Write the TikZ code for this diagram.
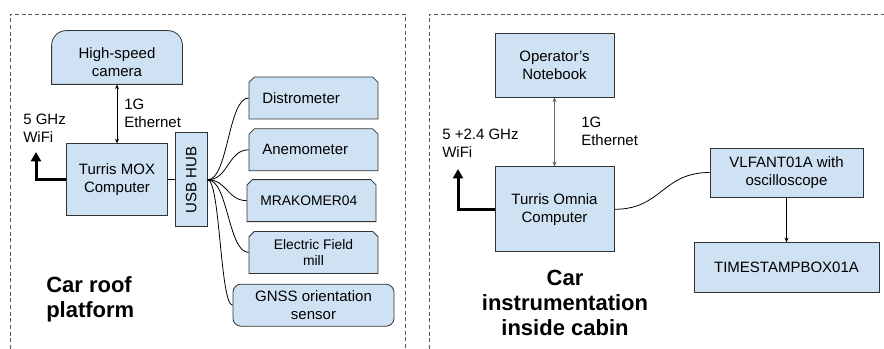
\documentclass[tikz,border=0pt]{standalone}
\usepackage{fontspec}
\setmainfont{Liberation Sans}
\usetikzlibrary{positioning, arrows.meta, shapes.misc, calc, backgrounds}
\definecolor{boxblue}{HTML}{CFE2F3}
\definecolor{boxline}{HTML}{333333}
\definecolor{framegray}{HTML}{595959}
\definecolor{linkgray}{HTML}{666666}

\begin{document}
\begin{tikzpicture}[x=0.75pt, y=-0.75pt, font=\fontsize{11.25}{13.5}\selectfont]
        \tikzstyle{unit} = [rectangle, draw=boxline, fill=boxblue, align=center, inner sep=1pt, line width=0.6pt]
        \tikzstyle{sensor} = [chamfered rectangle, chamfered rectangle corners={north west, north east}, chamfered rectangle xsep=2pt, chamfered rectangle ysep=2pt, draw=boxline, fill=boxblue, align=center, minimum width=96.75pt, minimum height=31.5pt, inner sep=1pt, line width=0.6pt]
        \tikzstyle{leftsensor} = [sensor, align=left, text width=76.75pt]
        \tikzstyle{linklbl} = [align=left, inner sep=0pt]
        \tikzstyle{heading} = [font=\fontsize{16.5}{19}\selectfont\bfseries, inner sep=0pt]
        \tikzstyle{wire} = [line width=0.6pt]
        \tikzstyle{link} = [line width=0.6pt, <->, >={Stealth[length=3.5pt,width=3pt]}]
        \tikzstyle{wifi} = [line width=2.25pt, -{Triangle[length=7pt,width=7.5pt]}]
        \tikzstyle{frame} = [draw=framegray, dash pattern=on 3pt off 2pt, line width=0.6pt]

        \useasboundingbox (0,0) rectangle (884,349);

        % dashed frames
        \draw [frame] (10,349) -- (10,14) -- (405,14) -- (405,349);
        \draw [frame] (429,349) -- (429,14) -- (884,14);

        % car roof platform
        \node [unit, draw=none, fill=none, minimum width=97.5pt, minimum height=33pt] (cam) at (117,62) {High-speed\\camera};
        \begin{pgfonlayer}{background}
            \filldraw [draw=boxline, fill=boxblue, line width=0.6pt, rounded corners=11pt] (cam.south west) -- ([yshift=6.75pt]cam.north west) -- ([yshift=6.75pt]cam.north east) [sharp corners] -- (cam.south east) -- cycle;
        \end{pgfonlayer}
        \node [unit, minimum width=75.75pt, minimum height=54pt, below=44.25pt of cam] (mox) {Turris MOX\\Computer};
        \node [unit, minimum width=24pt, minimum height=70.5pt, right=5.25pt of mox] (hub) {\rotatebox{90}{USB HUB}};

        \node [leftsensor] (distro) at (313.5,98) {Distrometer};
        \node [leftsensor, below=6.75pt of distro] (anemo) {Anemometer};
        \node [leftsensor, below=6pt of anemo, xshift=-1.5pt, font=\fontsize{10.4}{12.5}\selectfont] (mrak) {MRAKOMER04};
        \node [sensor, below=6.75pt of mrak, xshift=1.5pt, font=\fontsize{10.4}{12.5}\selectfont] (efm) {Electric Field\\mill};
        \node [unit, rounded corners=6pt, minimum width=120.75pt, minimum height=31.5pt, below=7.5pt of efm] (gnss) {GNSS orientation\\sensor};

        \node [linklbl, anchor=west] (ethL) at (124,113.5) {1G\\Ethernet};
        \node [linklbl, anchor=west] (wifiLtxt) at (23,128) {5 GHz\\WiFi};
        \node [heading, anchor=west, align=left] (roof) at (46,299.5) {Car roof\\platform};
        \coordinate (wifiL) at (36,152);

        \draw [link] (cam.south) -- (cam.south |- mox.north);
        \draw [wifi] (mox.west) -| (wifiL);
        \draw [wire] (mox.east) -- (hub.west);
        \foreach \s in {distro, anemo, mrak, efm, gnss}
            \draw [wire] let \p1 = (hub.east), \p2 = (\s.west) in (\p1) .. controls ({(\x1+\x2)/2}, \y1) and ({(\x1+\x2)/2}, \y2) .. (\p2);

        % car instrumentation inside cabin
        \node [unit, minimum width=89.25pt, minimum height=48pt] (note) at (554.5,65) {Operator’s\\Notebook};
        \node [unit, minimum width=89.25pt, minimum height=63.75pt, below=51.75pt of note] (omnia) {Turris Omnia\\Computer};
        \node [unit, minimum width=114.75pt, minimum height=36.75pt] (vlf) at (786.5,172.5) {VLFANT01A with\\oscilloscope};
        \node [unit, minimum width=138.75pt, minimum height=37.5pt, below=33.75pt of vlf] (ts) {TIMESTAMPBOX01A};

        \node [linklbl, anchor=west] (ethR) at (581,131.5) {1G\\Ethernet};
        \node [linklbl, anchor=west] (wifiRtxt) at (442,143.5) {5 +2.4 GHz\\WiFi};
        \node [heading, align=center] (cabin) at (565,303) {Car\\instrumentation\\inside cabin};
        \coordinate (wifiR) at (458,169);

        \draw [link, draw=linkgray] (note.south) -- (omnia.north);
        \draw [wifi] (omnia.west) -| (wifiR);
        \draw [wire] let \p1 = (omnia.east), \p2 = (vlf.west) in (\p1) .. controls ({(\x1+\x2)/2}, \y1) and ({(\x1+\x2)/2}, \y2) .. (\p2);
        \draw [wire, -{Stealth[length=3.5pt,width=3pt]}] (vlf.south) -- (ts.north);
    \end{tikzpicture}
\end{document}
